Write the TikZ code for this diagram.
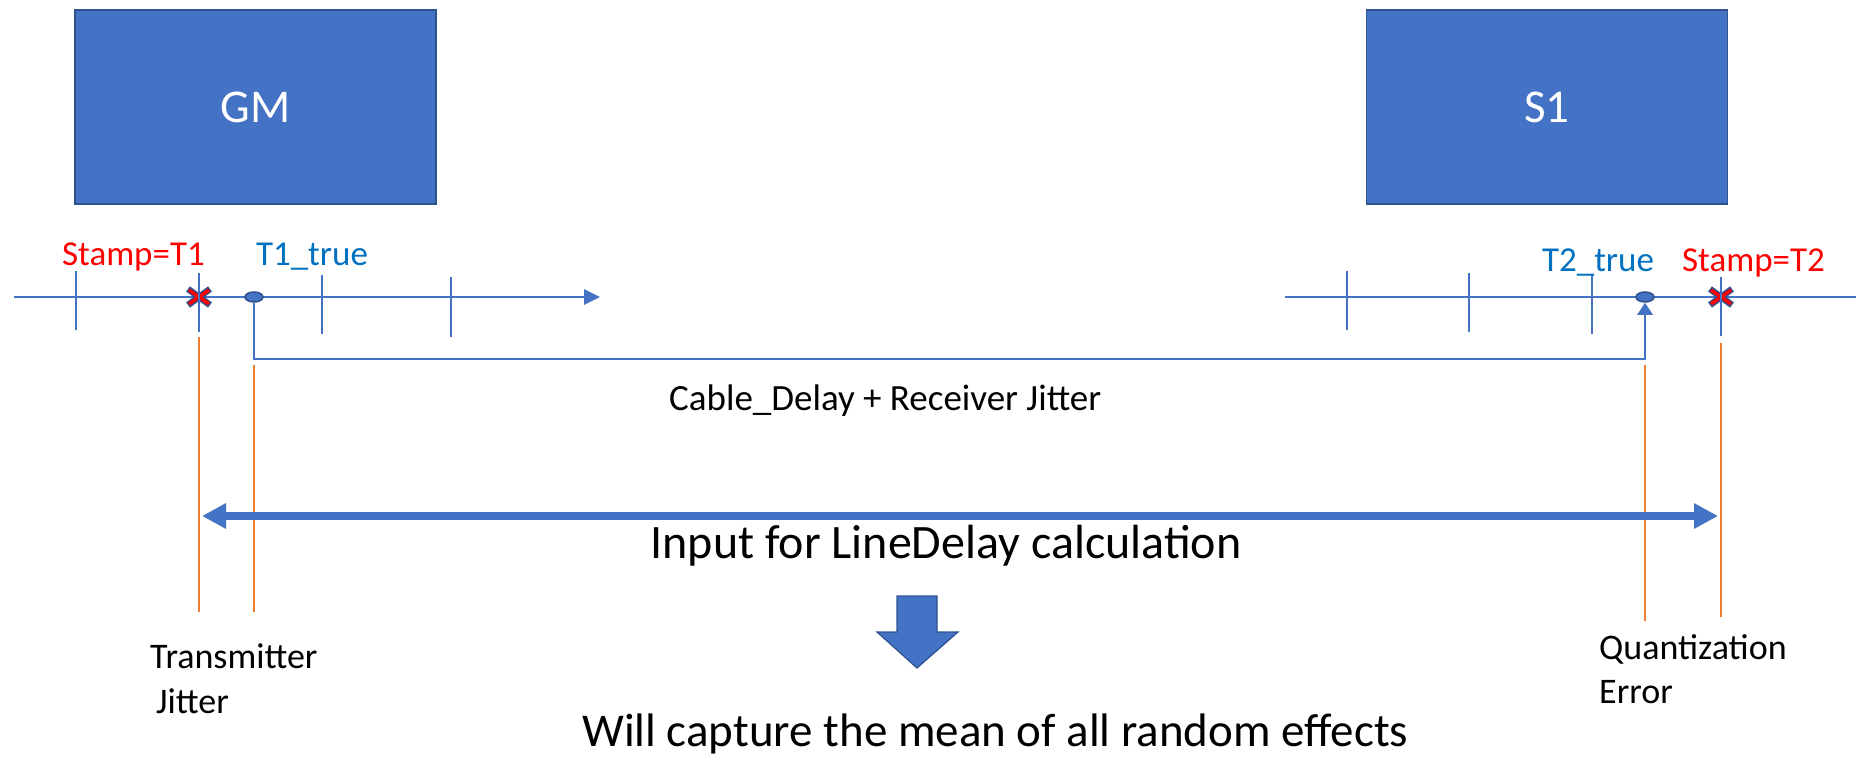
\documentclass[tikz,border=0pt]{standalone}
\usepackage{fontspec}
\setmainfont{Carlito}
\usetikzlibrary{arrows.meta,shapes.geometric}
\definecolor{boxblue}{HTML}{4472C4}
\definecolor{edgeblue}{HTML}{2F528F}
\definecolor{labelblue}{HTML}{0070C0}
\definecolor{guideorange}{HTML}{ED7D31}
\definecolor{stampred}{HTML}{FF0000}

\tikzset{
  device/.style={draw=edgeblue, line width=1.5pt, fill=boxblue, text=white,
    minimum width=361pt, minimum height=194pt, inner sep=0pt,
    font=\fontsize{47}{56}\selectfont},
  timeaxis/.style={draw=boxblue, line width=2.8pt, -{Triangle[length=16pt,width=15pt]}},
  tickmark/.style={draw=boxblue, line width=1.4pt},
  truedot/.style={ellipse, draw=edgeblue, fill=boxblue, line width=1.5pt,
    minimum width=18pt, minimum height=10pt, inner sep=0pt},
  delayline/.style={draw=boxblue, line width=2.8pt, -{Triangle[length=12pt,width=15pt]}},
  guide/.style={draw=guideorange, line width=1.4pt},
  spanarrow/.style={draw=boxblue, line width=7.5pt,
    {Triangle[length=24pt,width=24pt]}-{Triangle[length=24pt,width=24pt]}},
  lbl/.style={inner sep=0pt, anchor=base, font=\fontsize{35}{42}\selectfont},
  note/.style={inner sep=0pt, anchor=base west, font=\fontsize{36}{44}\selectfont},
  stampx/.pic={
    \draw[edgeblue, line width=6.5pt] (-11,-8) -- (11,8) (-11,8) -- (11,-8);
    \draw[stampred, line width=3.5pt] (-10,-7) -- (10,7) (-10,7) -- (10,-7);
  }
}

\begin{document}
\begin{tikzpicture}[x=1pt,y=-1pt]
\clip (0,0) rectangle (1856,757);
\fill[white] (0,0) rectangle (1856,757);

% devices
\node[device] (gm) at (255.5,107) {GM};
\node[device] (s1) at (1547,107) {S1};

% time axes
\coordinate (axL0) at (14,297);
\coordinate (axL1) at (600,297);
\coordinate (axR0) at (1285,297);
\coordinate (axR1) at (1872,297);
\draw[timeaxis] (axL0) -- (axL1);
\draw[timeaxis] (axR0) -- (axR1);

% timestamp crosses
\coordinate (stamp1) at (199,297);
\coordinate (stamp2) at (1721,297);
\pic at (stamp1) {stampx};
\pic at (stamp2) {stampx};

% tick marks
\draw[tickmark] (76,271) -- (76,330);
\draw[tickmark] (199,273) -- (199,332);
\draw[tickmark] (322,275) -- (322,334);
\draw[tickmark] (451,277) -- (451,337);
\draw[tickmark] (1347,271) -- (1347,330);
\draw[tickmark] (1469,273) -- (1469,332);
\draw[tickmark] (1592,275) -- (1592,334);
\draw[tickmark] (1721,277) -- (1721,336);

% true event instants
\node[truedot] (t1dot) at (254,297) {};
\node[truedot] (t2dot) at (1645,297) {};

% propagation path
\coordinate (delaymid) at (950,359);
\draw[delayline] (t1dot.south) |- (delaymid) -| (t2dot.south);

% labels on the axes
\node[lbl, text=stampred] (st1) at (133.5,265) {Stamp=T1};
\node[lbl, text=labelblue] (tt1) at (312,265) {T1\_true};
\node[lbl, text=labelblue] (tt2) at (1598,271) {T2\_true};
\node[lbl, text=stampred] (st2) at (1753.5,271) {Stamp=T2};

\node[inner sep=0pt, anchor=base west, font=\fontsize{37}{44}\selectfont] (cable) at (669,410)
  {Cable\_Delay + Receiver Jitter};

% guide lines
\draw[guide] (199,337) -- (199,612);
\draw[guide] (254,365) -- (254,612);
\draw[guide] (1645,365) -- (1645,621);
\draw[guide] (1721,343) -- (1721,617);

% measured interval
\coordinate (spanL) at (202,516);
\coordinate (spanR) at (1718,516);
\draw[spanarrow] (spanL) -- (spanR);
\node[inner sep=0pt, anchor=base, font=\fontsize{48}{58}\selectfont] (input) at (946,558)
  {Input for LineDelay calculation};

% error sources
\node[note] (tx1) at (150,668) {Transmitter};
\node[note] (tx2) at (156,713) {Jitter};
\node[note] (qe1) at (1599,659) {Quantization};
\node[note] (qe2) at (1599,703) {Error};

% conclusion
\draw[edgeblue, fill=boxblue, line width=1.2pt, line join=miter]
  (897,596) -- (937,596) -- (937,632) -- (958,632) -- (917,668) -- (877,632) -- (897,632) -- cycle;
\node[inner sep=0pt, anchor=base west, font=\fontsize{47}{56}\selectfont] (result) at (582,746)
  {Will capture the mean of all random effects};
\end{tikzpicture}
\end{document}
